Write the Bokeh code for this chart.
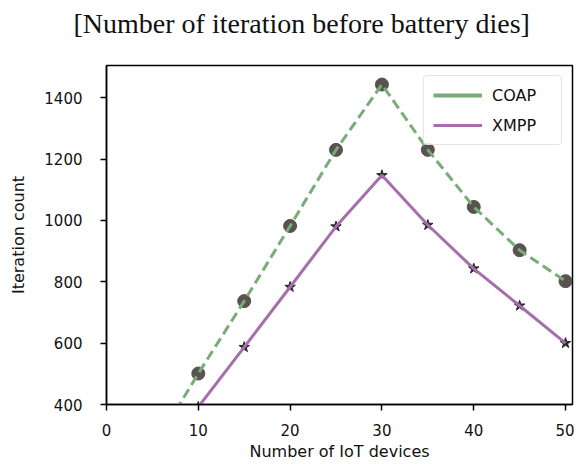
from bokeh.plotting import figure
from bokeh.models import Range1d, Legend, LegendItem, Title, FixedTicker
from bokeh.embed import file_html
from bokeh.resources import INLINE

# Data
coap_devices = [5, 10, 15, 20, 25, 30, 35, 40, 45, 50]
coap_iterations = [255, 501, 737, 982, 1230, 1443, 1230, 1044, 903, 802]
xmpp_devices = [10, 15, 20, 25, 30, 35, 40, 45, 50]
xmpp_iterations = [392, 587, 783, 980, 1147, 985, 843, 722, 600]
x_ticks = [0, 10, 20, 30, 40, 50]
y_ticks = [400, 600, 800, 1000, 1200, 1400]
series_names = ["COAP", "XMPP"]
title_text = "[Number of iteration before battery dies]"

GREEN = "#78ad77"
PURPLE = "#a66fab"
SANS = "DejaVu Sans"

p = figure(width=574, height=463, output_backend="svg", toolbar_location=None,
           x_range=Range1d(0, 50.76), y_range=Range1d(400, 1505),
           min_border_left=106, min_border_right=2, min_border_top=65, min_border_bottom=57)
p.title = None
# spacer panel between the frame and the title (closest to the frame)
p.add_layout(Title(text=" ", text_font_size="1px", standoff=19), "above")
p.add_layout(Title(text=title_text, text_font="Liberation Serif", text_font_size="28px",
                   text_font_style="normal", text_color="#111111", align="left",
                   offset=-33, standoff=10), "above")

p.xgrid.visible = False
p.ygrid.visible = False
p.outline_line_color = "black"
p.outline_line_width = 1.5
p.background_fill_color = "white"
p.border_fill_color = "white"

for ax in (p.xaxis[0], p.yaxis[0]):
    ax.axis_line_color = "black"
    ax.axis_line_width = 1.5
    ax.major_tick_line_color = "black"
    ax.major_tick_line_width = 1.5
    ax.major_tick_in = 0
    ax.major_tick_out = 6
    ax.minor_tick_line_color = None
    ax.major_label_text_font = SANS
    ax.major_label_text_font_size = "15px"
    ax.major_label_text_line_height = 1.0
    ax.major_label_text_color = "#111111"
    ax.axis_label_text_font = SANS
    ax.axis_label_text_font_size = "16px"
    ax.axis_label_text_line_height = 1.0
    ax.axis_label_text_font_style = "normal"
    ax.axis_label_text_color = "#111111"

p.xaxis.ticker = FixedTicker(ticks=x_ticks)
p.yaxis.ticker = FixedTicker(ticks=y_ticks)
p.xaxis.axis_label = "Number of IoT devices"
p.yaxis.axis_label = "Iteration count"
p.xaxis.major_label_standoff = 13
p.yaxis.major_label_standoff = 18
p.xaxis.axis_label_standoff = 3
p.yaxis.axis_label_standoff = 13

# markers first, lines on top
p.scatter(coap_devices, coap_iterations, marker="circle", size=13,
          fill_color="#59524f", line_color="#59524f")
p.scatter(xmpp_devices, xmpp_iterations, marker="star", size=11,
          fill_color="#2a262a", line_color="#2a262a")
p.line(coap_devices, coap_iterations, line_color=GREEN, line_width=3, line_dash="10 5")
p.line(xmpp_devices, xmpp_iterations, line_color=PURPLE, line_width=3)

# legend proxies: single-point solid lines (draw nothing in the plot, only in the legend)
leg_coap = p.line(coap_devices[:1], coap_iterations[:1], line_color=GREEN, line_width=4)
leg_xmpp = p.line(xmpp_devices[:1], xmpp_iterations[:1], line_color=PURPLE, line_width=3)

legend = Legend(items=[LegendItem(label=series_names[0], renderers=[leg_coap]),
                       LegendItem(label=series_names[1], renderers=[leg_xmpp])],
                location="top_right", margin=10, padding=9, spacing=10,
                glyph_width=49, glyph_height=20, label_height=20, label_width=60,
                label_standoff=10, label_text_font=SANS, label_text_font_size="16px",
                label_text_color="#111111",
                border_line_color="#cccccc", border_line_width=1.5,
                background_fill_color="white", background_fill_alpha=0.85,
                border_radius=4)
p.add_layout(legend, "center")

open("out.html", "w").write(file_html(p, INLINE))
